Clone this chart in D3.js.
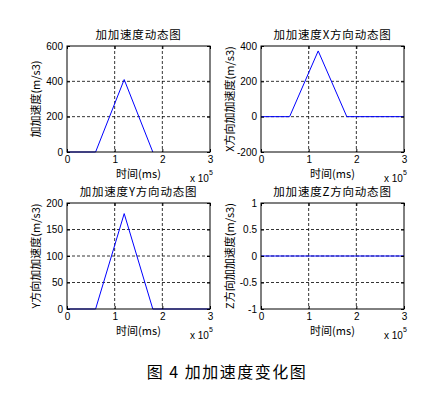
<!DOCTYPE html>
<html>
<head>
<meta charset="utf-8">
<script src="https://cdn.jsdelivr.net/npm/d3@7"></script>
<style>
  body { margin: 0; background: #fff; }
  svg text { fill: #000; }
</style>
</head>
<body>
<svg id="chart" width="438" height="396"></svg>
<script>
// time axis in units of 1e5 ms
var timeTotal = [0, 0.6, 1.2, 1.8];
var timeAxis = [0, 0.6, 1.2, 1.8, 3];
var jerkTotal = [0, 0, 410, 0];
var jerkX = [0, 0, 372, 0, 0];
var jerkY = [0, 0, 180, 0, 0];
var jerkZ = [0, 0, 0, 0, 0];
var xTicks = [0, 1, 2, 3];

var panels = [
  {title: "加加速度动态图", ylabel: "加加速度(m/s3)", t: timeTotal, v: jerkTotal,
   ydom: [0, 600], yticks: [0, 200, 400, 600], left: 67, top: 46},
  {title: "加加速度X方向动态图", ylabel: "X方向加加速度(m/s3)", t: timeAxis, v: jerkX,
   ydom: [-200, 400], yticks: [-200, 0, 200, 400], left: 261, top: 46},
  {title: "加加速度Y方向动态图", ylabel: "Y方向加加速度(m/s3)", t: timeAxis, v: jerkY,
   ydom: [0, 200], yticks: [0, 50, 100, 150, 200], left: 67, top: 203},
  {title: "加加速度Z方向动态图", ylabel: "Z方向加加速度(m/s3)", t: timeAxis, v: jerkZ,
   ydom: [-1, 1], yticks: [-1, -0.5, 0, 0.5, 1], left: 261, top: 203}
];

var svg = d3.select("#chart");
var w = 143, h = 106;
var latin = "'Liberation Sans', Arial, sans-serif";
var cjk = "'Noto Sans CJK SC', 'Liberation Sans', sans-serif";
var fmt = function(d) { return String(d); };

panels.forEach(function(p) {
  var g = svg.append("g").attr("transform", "translate(" + p.left + "," + p.top + ")");
  var x = d3.scaleLinear().domain([0, 3]).range([0, w]);
  var y = d3.scaleLinear().domain(p.ydom).range([h, 0]);

  // grid
  g.selectAll(".gx").data(xTicks.slice(1, -1)).enter().append("line")
    .attr("x1", d => x(d)).attr("x2", d => x(d)).attr("y1", 0).attr("y2", h)
    .attr("stroke", "#000").attr("stroke-dasharray", "3,2").attr("stroke-width", 0.8);
  g.selectAll(".gy").data(p.yticks.slice(1, -1)).enter().append("line")
    .attr("y1", d => y(d)).attr("y2", d => y(d)).attr("x1", 0).attr("x2", w)
    .attr("stroke", "#000").attr("stroke-dasharray", "3,2").attr("stroke-width", 0.8);

  // data line
  var line = d3.line().x((d, i) => x(p.t[i])).y(d => y(d));
  g.append("path").datum(p.v).attr("d", line)
    .attr("fill", "none").attr("stroke", "#0000ff").attr("stroke-width", 1);

  // axes with inward ticks
  var ax = function(sel, axis) {
    sel.call(axis);
    sel.select(".domain").remove();
    sel.selectAll("text").style("font-family", latin).style("font-size", "10px").attr("fill", "#000");
  };
  g.append("g").attr("transform", "translate(0," + h + ")")
    .call(s => ax(s, d3.axisBottom(x).tickValues(xTicks).tickFormat(fmt).tickSizeInner(-3).tickSizeOuter(0).tickPadding(4)));
  g.append("g").call(s => s.call(d3.axisTop(x).tickValues(xTicks).tickSizeInner(-3).tickSizeOuter(0).tickFormat("")))
    .select(".domain").remove();
  g.append("g")
    .call(s => ax(s, d3.axisLeft(y).tickValues(p.yticks).tickFormat(fmt).tickSizeInner(-3).tickSizeOuter(0).tickPadding(4)));
  g.append("g").attr("transform", "translate(" + w + ",0)")
    .call(s => s.call(d3.axisRight(y).tickValues(p.yticks).tickSizeInner(-3).tickSizeOuter(0).tickFormat("")))
    .select(".domain").remove();

  g.append("rect").attr("width", w).attr("height", h)
    .attr("fill", "none").attr("stroke", "#000").attr("stroke-width", 1);

  // texts
  g.append("text").attr("x", w / 2).attr("y", -7).attr("text-anchor", "middle")
    .style("font-family", cjk).style("font-size", "11.5px").style("letter-spacing", "0.8px").text(p.title);
  g.append("text").attr("x", w / 2).attr("y", h + 26).attr("text-anchor", "middle")
    .style("font-family", cjk).style("font-size", "11px").text("时间(ms)");
  g.append("text").attr("transform", "translate(" + (-27) + "," + (h / 2) + ") rotate(-90)")
    .attr("text-anchor", "middle").style("font-family", cjk).style("font-size", "11px").text(p.ylabel);
  var ex = g.append("text").attr("x", w - 20).attr("y", h + 30)
    .style("font-family", latin).style("font-size", "10px");
  ex.append("tspan").text("x 10");
  ex.append("tspan").attr("dy", -7).style("font-size", "7px").text("5");
});

svg.append("text").attr("x", 227).attr("y", 378).attr("text-anchor", "middle")
  .style("font-family", cjk).style("font-size", "16px").style("letter-spacing", "1.5px")
  .text("图 4  加加速度变化图");
</script>
</body>
</html>
